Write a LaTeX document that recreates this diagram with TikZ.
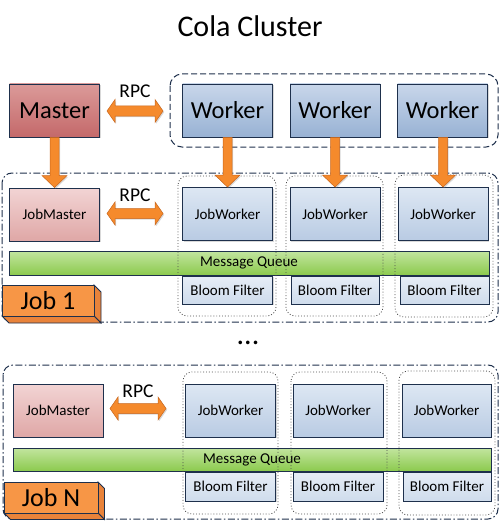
\documentclass[tikz,border=0pt]{standalone}
\usepackage{fontspec}
\setmainfont{Carlito}
\usetikzlibrary{calc,shadows}
\definecolor{navy}{RGB}{30,48,76}
\definecolor{mtop}{HTML}{DB9A99}
\definecolor{mbot}{HTML}{C4696A}
\definecolor{wtop}{HTML}{C8D6EA}
\definecolor{wbot}{HTML}{98B2D4}
\definecolor{jmtop}{HTML}{F2D4D4}
\definecolor{jmbot}{HTML}{DFA7A6}
\definecolor{jwtop}{HTML}{DDE7F3}
\definecolor{jwbot}{HTML}{B9CBE3}
\definecolor{bftop}{HTML}{E6EDF6}
\definecolor{bfbot}{HTML}{CFDCEC}
\definecolor{mqtop}{HTML}{C2E59F}
\definecolor{mqbot}{HTML}{8CCA4E}
\definecolor{orfill}{HTML}{F58A2C}
\definecolor{ordraw}{HTML}{C9661C}
\definecolor{jobfront}{HTML}{F79646}
\definecolor{jobside}{HTML}{E9833A}
\newcommand\dnarr[2]{%
  \draw[oarrow] ($(#1)+(-4.5,0)$) -- ($(#2)+(-4.5,-12)$) -- ($(#2)+(-12.5,-12)$) -- (#2)
   -- ($(#2)+(12.5,-12)$) -- ($(#2)+(4.5,-12)$) -- ($(#1)+(4.5,0)$) -- cycle;}
\newcommand\dblarr[2]{%
  \draw[oarrow] (#1) -- ($(#1)+(8,-11.5)$) -- ($(#1)+(8,-5)$) -- ($(#2)+(-8,-5)$) -- ($(#2)+(-8,-11.5)$)
   -- (#2) -- ($(#2)+(-8,11.5)$) -- ($(#2)+(-8,5)$) -- ($(#1)+(8,5)$) -- ($(#1)+(8,11.5)$) -- cycle;}
\newcommand\jobcube[5]{% x1 y1 x2 y2 depth
  \fill[jobside, draw=navy, line width=0.8pt] (#3,#2) -- (#3+#5,#2+#5) -- (#3+#5,#4+#5) -- (#3,#4) -- cycle;
  \fill[jobside, draw=navy, line width=0.8pt] (#1,#4) -- (#3,#4) -- (#3+#5,#4+#5) -- (#1+#5,#4+#5) -- cycle;
  \fill[jobfront, draw=navy, line width=0.8pt] (#1,#2) rectangle (#3,#4);}
\begin{document}
\begin{tikzpicture}[x=1pt,y=-1pt,
  shad/.style={drop shadow={shadow xshift=1.2pt,shadow yshift=-1.2pt,opacity=0.3}},
  bx/.style={draw=navy, line width=0.9pt, inner sep=0pt, shad},
  big/.style={bx, minimum width=90, minimum height=53, font=\fontsize{24.5}{29}\selectfont},
  small/.style={bx, minimum width=90, minimum height=53, font=\fontsize{15}{18}\selectfont},
  master/.style={big, top color=mtop, bottom color=mbot},
  worker/.style={big, top color=wtop, bottom color=wbot},
  jobmaster/.style={small, top color=jmtop, bottom color=jmbot},
  jobworker/.style={small, top color=jwtop, bottom color=jwbot},
  bloom/.style={bx, minimum width=90, minimum height=28, font=\fontsize{15}{18}\selectfont, top color=bftop, bottom color=bfbot},
  mq/.style={bx, minimum height=24, font=\fontsize{15}{18}\selectfont, top color=mqtop, bottom color=mqbot},
  oarrow/.style={fill=orfill, draw=ordraw, line width=0.5pt, shad},
  rpc/.style={anchor=base, font=\fontsize{19.5}{23}\selectfont},
  grp/.style={draw=navy, line width=1pt, dash pattern=on 6pt off 3pt, rounded corners=12},
  jobbox/.style={draw=navy, line width=1pt, dash pattern=on 7pt off 2.5pt on 1.5pt off 2.5pt, rounded corners=10},
  dotgrp/.style={draw=black!70, line width=0.8pt, dash pattern=on 0.9pt off 2pt, rounded corners=9},
  joblbl/.style={font=\fontsize{26}{30}\selectfont, inner sep=0pt}
]
\useasboundingbox (0,0) rectangle (500,524);

% title
\node[anchor=base, font=\fontsize{30}{36}\selectfont] (title) at (250,37) {Cola Cluster};

% ---------------- top row ----------------
\draw[grp] (170,74) rectangle (498,147);
\node[master] (m) at (54.5,110.5) {Master};
\node[worker] (w1) at (227.5,110.5) {Worker};
\node[worker] (w2) at (335,110.5) {Worker};
\node[worker] (w3) at (442.5,110.5) {Worker};
\coordinate (r1a) at (107,111);
\coordinate (r1b) at (163,111);
\dblarr{r1a}{r1b}
\node[rpc] (rpc1) at (135,98) {RPC};

% ---------------- Job 1 ----------------
\draw[jobbox] (2,173) rectangle (498,322);
\node[jobmaster] (jm1) at (54.5,214.5) {JobMaster};
\node[jobworker] (jw11) at (227.5,214) {JobWorker};
\node[jobworker] (jw12) at (335,214) {JobWorker};
\node[jobworker] (jw13) at (443,214) {JobWorker};
\node[mq, minimum width=480] (mq1) at (249,263) {Message Queue};
\node[bloom] (bf11) at (227.5,290) {Bloom Filter};
\node[bloom, minimum width=88] (bf12) at (335,290) {Bloom Filter};
\node[bloom, minimum width=89] (bf13) at (444.5,290) {Bloom Filter};
\draw[dotgrp] (178,176) rectangle (276,316);
\draw[dotgrp] (286,176) rectangle (383,316);
\draw[dotgrp] (395,175) rectangle (493,317);
\coordinate (r2a) at (107,213.5);
\coordinate (r2b) at (163,213.5);
\dblarr{r2a}{r2b}
\node[rpc] (rpc2) at (135,201) {RPC};
\jobcube{2}{285}{94}{316}{7}
\node[joblbl] (j1) at (48,300.5) {Job 1};

% down arrows
\dnarr{m.south}{jm1.north}
\coordinate (s1) at (jw11.north |- w1.south);
\coordinate (s2) at (jw12.north |- w2.south);
\coordinate (s3) at (jw13.north |- w3.south);
\dnarr{s1}{jw11.north}
\dnarr{s2}{jw12.north}
\dnarr{s3}{jw13.north}

% dots
\node[anchor=base, font=\fontsize{30}{36}\selectfont] (dots) at (248,344) {...};

% ---------------- Job N ----------------
\draw[jobbox] (3,365) rectangle (498,519);
\node[jobmaster] (jmn) at (58,410.5) {JobMaster};
\node[jobworker] (jwn1) at (230.5,410.5) {JobWorker};
\node[jobworker] (jwn2) at (338,410.5) {JobWorker};
\node[jobworker, minimum width=89] (jwn3) at (446.5,410.5) {JobWorker};
\node[mq, minimum width=478, minimum height=23] (mqn) at (252,459.5) {Message Queue};
\node[bloom, minimum height=29] (bfn1) at (230.5,486.5) {Bloom Filter};
\node[bloom, minimum height=29] (bfn2) at (338,486.5) {Bloom Filter};
\node[bloom, minimum height=29, minimum width=88] (bfn3) at (447,486.5) {Bloom Filter};
\draw[dotgrp] (183,372) rectangle (278,514);
\draw[dotgrp] (291,372) rectangle (387,514);
\draw[dotgrp] (399,371) rectangle (495,515);
\coordinate (r3a) at (110,408.5);
\coordinate (r3b) at (166,408.5);
\dblarr{r3a}{r3b}
\node[rpc] (rpc3) at (138,397) {RPC};
\jobcube{4}{482}{98}{513}{6.5}
\node[joblbl] (jn) at (51,497.5) {Job N};
\end{tikzpicture}
\end{document}
